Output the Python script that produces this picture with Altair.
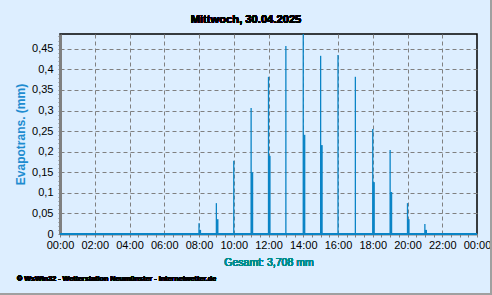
import altair as alt
import pandas as pd

# Hourly evapotranspiration (mm)
hours = [8, 9, 10, 11, 12, 13, 14, 15, 16, 17, 18, 19, 20, 21]
evap_main = [0.026, 0.075, 0.178, 0.306, 0.382, 0.457, 0.486, 0.433, 0.435, 0.382, 0.255, 0.204, 0.075, 0.024]
evap_second = [0.010, 0.036, 0.0, 0.150, 0.190, 0.0, 0.241, 0.216, 0.0, 0.0, 0.126, 0.102, 0.036, 0.010]

title_text = "Mittwoch, 30.04.2025"
total_text = "Gesamt: 3,708 mm"
footer_text = "\u00a9 WsWin32  -  Wetterstation Neum\u00fcnster  -  Internetwetter.de"
y_title = "Evapotrans.  (mm)"

BG = "#DDEEFF"
BLUE = "#0A84C6"
FONT = "Liberation Sans"

df = pd.DataFrame({"h": hours, "v1": evap_main, "v2": evap_second})
df2 = df[df["v2"] > 0]

YMAX = 0.486
xs = alt.Scale(domain=[0, 24], nice=False, zero=False)
ys = alt.Scale(domain=[0, YMAX], nice=False)

x_vals = [i * 0.5 for i in range(49)]
y_vals = [round(i * 0.01, 2) for i in range(49)]

x_axis = alt.Axis(
    values=x_vals,
    labelExpr="datum.value % 2 == 0 ? ((datum.value % 24) < 10 ? '0' : '') + (datum.value % 24) + ':00' : ''",
    labelOverlap=False,
    labelFlush=False,
    grid=True,
    gridOpacity=alt.ConditionalAxisNumber(condition={"test": "datum.value % 2 == 0 && datum.value > 0 && datum.value < 24", "value": 1}, value=0),
    title=None,
)
y_axis = alt.Axis(
    values=y_vals,
    labelExpr="round(datum.value*100) % 5 == 0 ? replace(format(datum.value, '.2~f'), '.', ',') : ''",
    labelOverlap=False,
    grid=True,
    gridOpacity=alt.ConditionalAxisNumber(condition={"test": "round(datum.value*100) % 5 == 0 && datum.value > 0", "value": 1}, value=0),
    title=y_title,
)

base = alt.Chart(df)

thin = base.mark_rule(color=BLUE, strokeWidth=1.3).encode(
    x=alt.X("h:Q", scale=xs, axis=x_axis),
    y=alt.Y("v1:Q", scale=ys, axis=y_axis),
    y2=alt.datum(0),
)
thick = alt.Chart(df2).mark_rule(color=BLUE, strokeWidth=2.2, xOffset=1).encode(
    x=alt.X("h:Q", scale=xs, axis=x_axis),
    y=alt.Y("v2:Q", scale=ys, axis=y_axis),
    y2=alt.datum(0),
)
baseline = alt.Chart(df).mark_rule(color=BLUE, strokeWidth=2).encode(
    y=alt.Y(datum=0, scale=ys, axis=y_axis),
)

title = alt.Chart(df).mark_text(
    text=title_text, font=FONT, fontSize=11.2, fontWeight="bold", color="black", align="center", baseline="middle"
).encode(x=alt.value(186), y=alt.value(-14))
total = alt.Chart(df).mark_text(
    text=total_text, font=FONT, fontSize=10.5, fontWeight="normal", color="#008C8C", align="center", baseline="middle"
).encode(x=alt.value(209), y=alt.value(29 + 200))
footer = alt.Chart(df).mark_text(
    text=footer_text, font=FONT, fontSize=7.2, fontWeight="bold", color="black", align="left", baseline="middle"
).encode(x=alt.value(-43), y=alt.value(245))
right_border = alt.Chart(df).mark_rule(color="#A0A0A0", strokeWidth=2).encode(
    x=alt.value(431), y=alt.value(-34), y2=alt.value(261)
)
bottom_border = alt.Chart(df).mark_rule(color="#A0A0A0", strokeWidth=2).encode(
    x=alt.value(-60), x2=alt.value(432), y=alt.value(260)
)

chart = alt.layer(thin, thick, baseline, title, total, footer, right_border, bottom_border).properties(
    width=417, height=200,
    background=BG,
    autosize=alt.AutoSizeParams(type="none"),
    padding={"left": 60, "top": 34, "right": 15, "bottom": 61},
).configure_view(
    stroke="black", strokeWidth=1.5, fill=BG
).configure_axis(
    labelFont=FONT, labelFontSize=11, labelColor="black",
    tickColor="#808080", domainColor="#808080",
    gridColor="#808080", gridDash=[4, 3], gridWidth=1,
    titleFont=FONT, titleFontSize=12, titleFontWeight="bold", titleColor="#1E8CD0",
).configure_axisX(
    labelPadding=2, tickSize=3, domainWidth=2,
).configure_axisY(
    labelPadding=5, tickSize=2, domainWidth=3, titlePadding=4,
)

chart.save("out.html", embed_options={"renderer": "svg", "actions": False})
